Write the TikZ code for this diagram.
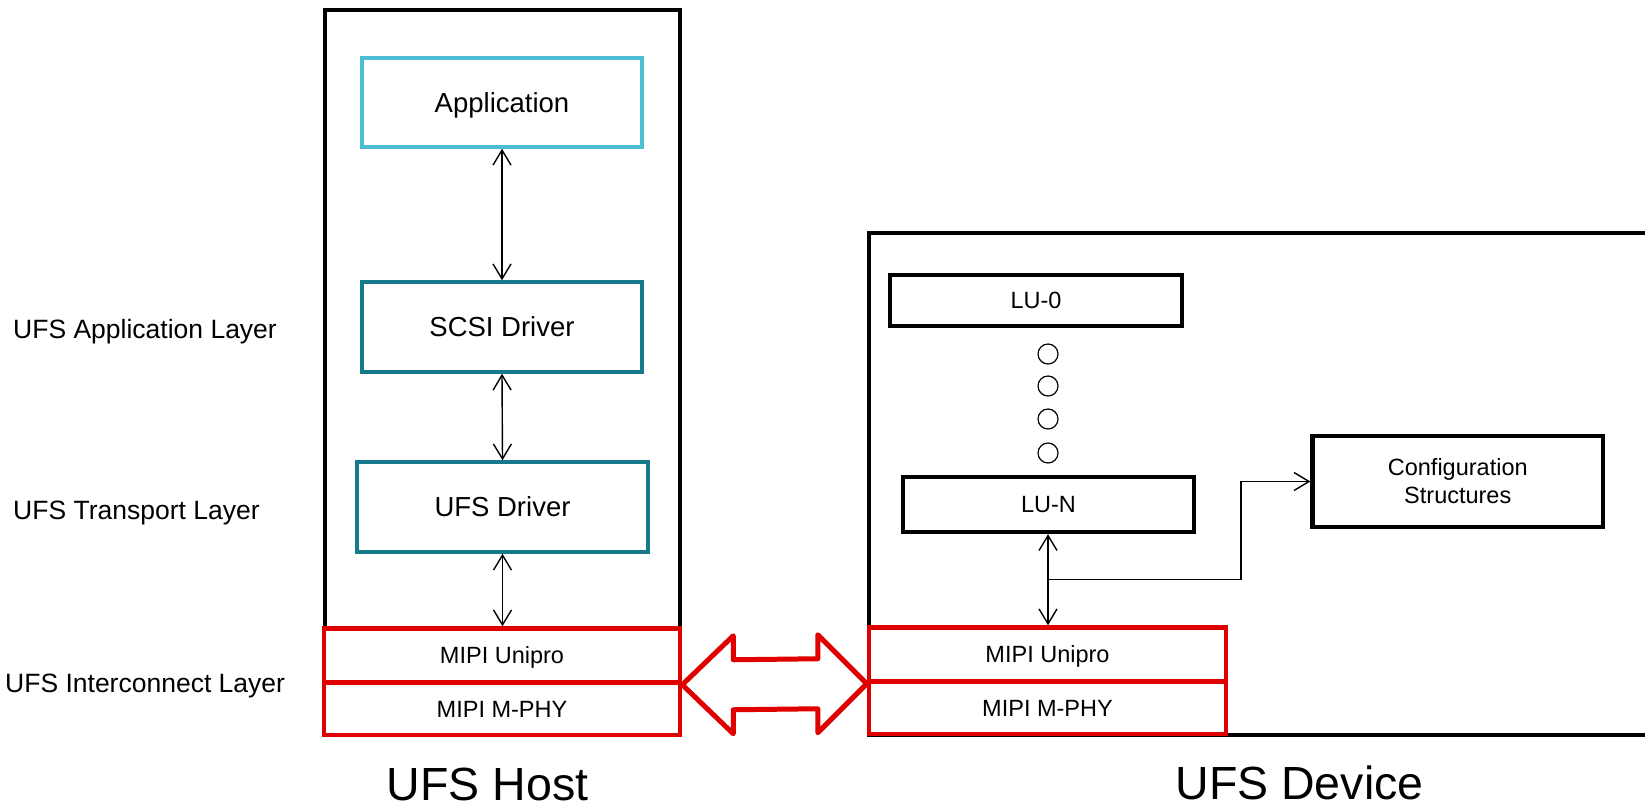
\documentclass[tikz,border=0pt]{standalone}
\usepackage{fontspec}
\setmainfont{Liberation Sans}
\usetikzlibrary{arrows.meta,calc}

\definecolor{appblue}{RGB}{75,190,212}
\definecolor{drvteal}{RGB}{22,122,138}
\definecolor{ufsred}{RGB}{224,0,0}

\tikzset{
  fbig/.style={font=\fontsize{27.5}{33}\selectfont, text height=19.7pt, text depth=0pt},
  fsmall/.style={font=\fontsize{23.5}{28}\selectfont, text height=16.8pt, text depth=0pt},
  flayer/.style={font=\fontsize{26.5}{32}\selectfont, text height=19pt, text depth=0pt, inner sep=0pt, anchor=west},
  ftitle/.style={font=\fontsize{46.5}{56}\selectfont, text height=33.3pt, text depth=0pt, inner sep=0pt},
  outerbox/.style={draw, line width=4pt, inner sep=0pt},
  appbox/.style={draw=appblue, line width=3.5pt, inner sep=0pt, fbig},
  drvbox/.style={draw=drvteal, line width=3.5pt, inner sep=0pt, fbig},
  redbox/.style={draw=ufsred, line width=4.5pt, inner sep=0pt, fsmall, fill=white},
  lubox/.style={draw, line width=4.3pt, inner sep=0pt, fsmall},
  dotmark/.style={draw, circle, line width=1.2pt, minimum size=20pt, inner sep=0pt},
  twoway/.style={line width=1.4pt, {Straight Barb[length=15pt,width=18pt]}-{Straight Barb[length=15pt,width=18pt]}},
  oneway/.style={line width=1.4pt, -{Straight Barb[length=15pt,width=18pt]}},
  bigarrow/.style={draw=ufsred, fill=white, line width=5pt, line join=round}
}

\begin{document}
\begin{tikzpicture}[x=1pt, y=-1pt]
  \useasboundingbox (0,0) rectangle (1645,807);
  \fill[white] (0,0) rectangle (1645,807);

  % layer labels
  \node[flayer] (lapp) at (13,329) {UFS Application Layer};
  \node[flayer] (ltra) at (13,509.5) {UFS Transport Layer};
  \node[flayer] (lint) at (5,682.5) {UFS Interconnect Layer};

  % host side
  \node[outerbox, minimum width=355pt, minimum height=725pt] (host) at (502.5,372.5) {};
  \node[appbox, minimum width=280pt, minimum height=89pt] (app) at (502,102.5) {Application};
  \node[drvbox, minimum width=280pt, minimum height=90pt] (scsi) at (502,327) {SCSI Driver};
  \node[drvbox, minimum width=291pt, minimum height=90pt] (ufsdrv) at (502.5,507) {UFS Driver};
  \node[redbox, minimum width=356pt, minimum height=54pt] (hunipro) at (502,655.5) {MIPI Unipro};
  \node[redbox, minimum width=356pt, minimum height=52.5pt] (hmphy) at (502,708.75) {MIPI M-PHY};

  \draw[twoway] (app.south) -- (scsi.north);
  \draw[twoway] (scsi.south) -- (ufsdrv.north);
  \draw[twoway] (ufsdrv.south) -- (ufsdrv.south |- hunipro.north);

  % device side
  \node[outerbox, minimum width=831pt, minimum height=502pt] (device) at (1284.5,484) {};
  \node[lubox, minimum width=292pt, minimum height=51pt] (lu0) at (1036,300.5) {LU-0};
  \node[dotmark] (d1) at (1048,354) {};
  \node[dotmark] (d2) at (1048,386) {};
  \node[dotmark] (d3) at (1048,419) {};
  \node[dotmark] (d4) at (1048,453) {};
  \node[lubox, minimum width=291pt, minimum height=55pt] (lun) at (1048.5,504.5) {LU-N};
  \node[draw, line width=4.3pt, inner sep=0pt, align=center,
        font=\fontsize{23.5}{28}\selectfont,
        minimum width=290.5pt, minimum height=91pt] (cfg) at (1457.75,481.5) {Configuration\\Structures};
  \node[redbox, minimum width=357pt, minimum height=54pt] (dunipro) at (1047.5,654.5) {MIPI Unipro};
  \node[redbox, minimum width=357pt, minimum height=52.5pt] (dmphy) at (1047.5,707.75) {MIPI M-PHY};

  \draw[twoway] (lun.south -| 1048,0) coordinate (lutop) -- (lutop |- dunipro.north) coordinate (lubot);
  \coordinate (tap) at ($(lutop)!0.5!(lubot)$);
  \draw[oneway] (tap) -- ++(193,0) |- (cfg.west);

  % link between host and device
  \draw[bigarrow] (hunipro.south east) -- ++(51,-49) -- ++(0,24)
    -- ($(dunipro.south west)+(-49,-25)$) -- ++(0,-24) -- (dunipro.south west)
    -- ++(-49,49) -- ++(0,-24) -- ($(hunipro.south east)+(51,25)$) -- ++(0,24) -- cycle;

  % titles
  \node[ftitle] (thost) at (487.7,783.5) {UFS Host};
  \node[ftitle] (tdev) at (1299.5,783) {UFS Device};
\end{tikzpicture}
\end{document}
